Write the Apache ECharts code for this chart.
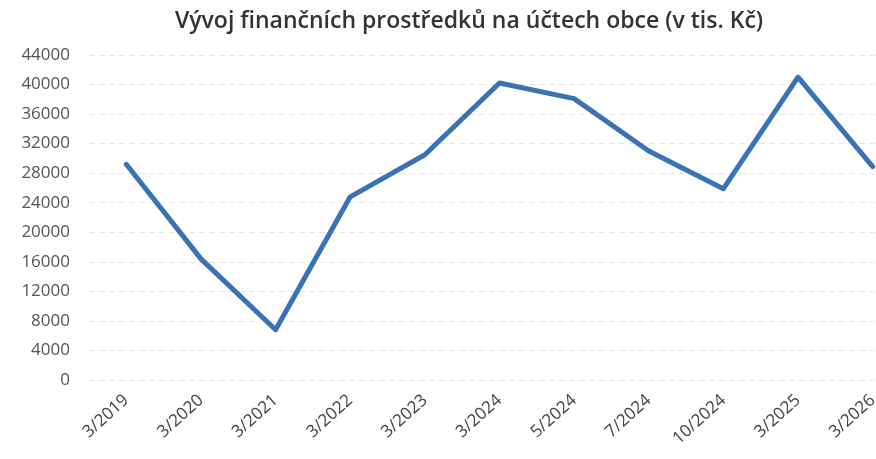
<!DOCTYPE html>
<html>
<head>
<meta charset="utf-8">
<script src="https://cdn.jsdelivr.net/npm/echarts@6/dist/echarts.min.js"></script>
<style>
  html, body { margin: 0; padding: 0; background: #fff; }
  #main { width: 876px; height: 459px; }
</style>
</head>
<body>
<div id="main"></div>
<script>
// období a stav prostředků (tis. Kč)
const obdobi = ['3/2019', '3/2020', '3/2021', '3/2022', '3/2023', '3/2024', '5/2024', '7/2024', '10/2024', '3/2025', '3/2026'];
const prostredky = [29200, 16400, 6800, 24800, 30500, 40200, 38100, 31000, 25900, 41000, 28900];
const yMin = 0;
const yMax = 44000;
const yStep = 4000;

const chart = echarts.init(document.getElementById('main'));
const option = {
  animation: false,
  title: {
    text: 'Vývoj finančních prostředků na účtech obce (v tis. Kč)',
    left: 464,
    textAlign: 'center',
    top: 5,
    textStyle: {
      fontFamily: 'Open Sans',
      fontSize: 23,
      fontWeight: 600,
      color: '#333'
    }
  },
  grid: {
    left: 89,
    width: 821,
    top: 55,
    bottom: 79,
    outerBoundsMode: 'none'
  },
  xAxis: {
    type: 'category',
    data: obdobi,
    boundaryGap: true,
    axisLine: { show: false },
    axisTick: { show: false },
    axisLabel: {
      rotate: 42,
      margin: 18,
      color: '#444',
      fontFamily: 'Open Sans',
      fontSize: 17
    }
  },
  yAxis: {
    type: 'value',
    min: yMin,
    max: yMax,
    interval: yStep,
    axisLine: { show: false },
    axisTick: { show: false },
    axisLabel: {
      color: '#555',
      fontFamily: 'Open Sans',
      fontSize: 17,
      margin: 19,
      formatter: v => String(v)
    },
    splitLine: {
      lineStyle: { color: '#e6e6e6', width: 1, type: [6, 4] }
    }
  },
  series: [
    {
      type: 'line',
      data: prostredky,
      showSymbol: false,
      lineStyle: { color: '#3a72b6', width: 5, cap: 'round', join: 'round' }
    }
  ]
};
chart.setOption(option);
</script>
</body>
</html>
